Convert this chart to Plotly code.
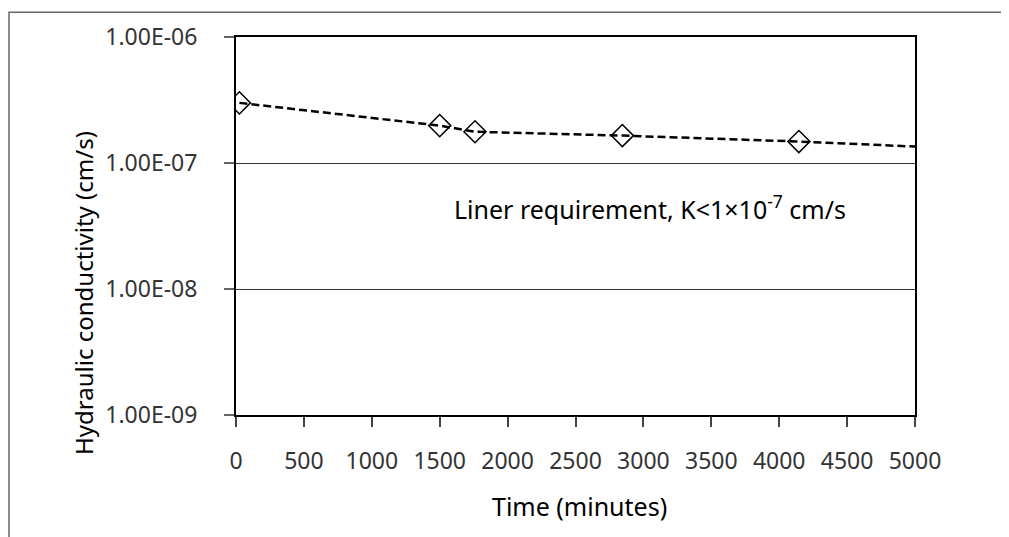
import plotly.graph_objects as go

time_min = [25, 1500, 1760, 2845, 4145]
k_values = [3.0e-7, 1.98e-7, 1.77e-7, 1.65e-7, 1.48e-7]
line_x = [25, 1500, 1760, 2845, 4145, 5000]
line_y = [3.0e-7, 1.98e-7, 1.77e-7, 1.65e-7, 1.48e-7, 1.35e-7]
y_tickvals = [1e-9, 1e-8, 1e-7, 1e-6]
y_ticktext = ["1.00E-09", "1.00E-08", "1.00E-07", "1.00E-06"]
x_tickvals = list(range(0, 5001, 500))

OFF = 8  # page body margin
W, H = 1009 - OFF, 537 - OFF
L, R, T, B = 236 - OFF, 915 - OFF, 34 - OFF, 415 - OFF

def px(x):
    return (x - OFF - L) / (R - L)

def py(y):
    return (B - (y - OFF)) / (B - T)

FONT = "Noto Sans"

fig = go.Figure()
fig.add_trace(go.Scatter(x=line_x, y=line_y, mode="lines",
                         line=dict(color="black", width=2.5, dash="8px,4px"),
                         hoverinfo="skip", showlegend=False))
fig.add_trace(go.Scatter(x=time_min, y=k_values, mode="markers",
                         marker=dict(symbol="diamond-open", size=17,
                                     color="black", line=dict(color="black", width=1.5)),
                         showlegend=False))

fig.update_layout(
    width=W, height=H,
    margin=dict(l=L, r=W - R, t=T, b=H - B),
    paper_bgcolor="white", plot_bgcolor="white",
    font=dict(family=FONT, color="#333333", size=22),
    xaxis=dict(range=[0, 5000], tickvals=x_tickvals, showgrid=False,
               zeroline=False, showline=True, linecolor="black", linewidth=2,
               mirror=True, ticks="outside", ticklen=10, tickcolor="#444",
               tickwidth=2, ticklabelstandoff=14,
               tickfont=dict(size=23, color="#333333")),
    yaxis=dict(type="log", range=[-9, -6], tickvals=y_tickvals, ticktext=y_ticktext,
               showgrid=True, gridcolor="#333333", gridwidth=1,
               zeroline=False, showline=True, linecolor="black", linewidth=2,
               mirror=True, ticks="outside", ticklen=10, tickcolor="#666",
               tickwidth=2, ticklabelstandoff=22,
               tickfont=dict(size=23, color="#333333")),
    shapes=[
        dict(type="path", xref="paper", yref="paper",
             path=f"M {px(9)},{py(545)} L {px(9)},{py(9)} L {px(1015)},{py(9)}",
             line=dict(color="#666666", width=1.5)),
    ],
    annotations=[
        dict(x=px(650), y=py(206), xref="paper", yref="paper", showarrow=False,
             xanchor="center", yanchor="middle",
             text="Liner requirement, K<1×10<sup>-7</sup> cm/s",
             font=dict(family=FONT, size=25, color="black")),
        dict(x=px(579), y=py(507), xref="paper", yref="paper", showarrow=False,
             xanchor="center", yanchor="middle",
             text="Time (minutes)",
             font=dict(family=FONT, size=25, color="black")),
        dict(x=px(84), y=py(292), xref="paper", yref="paper", showarrow=False,
             xanchor="center", yanchor="middle",
             text="Hydraulic conductivity (cm/s)", textangle=-90,
             font=dict(family=FONT, size=24, color="black")),
    ],
)

fig.write_html("out.html")
